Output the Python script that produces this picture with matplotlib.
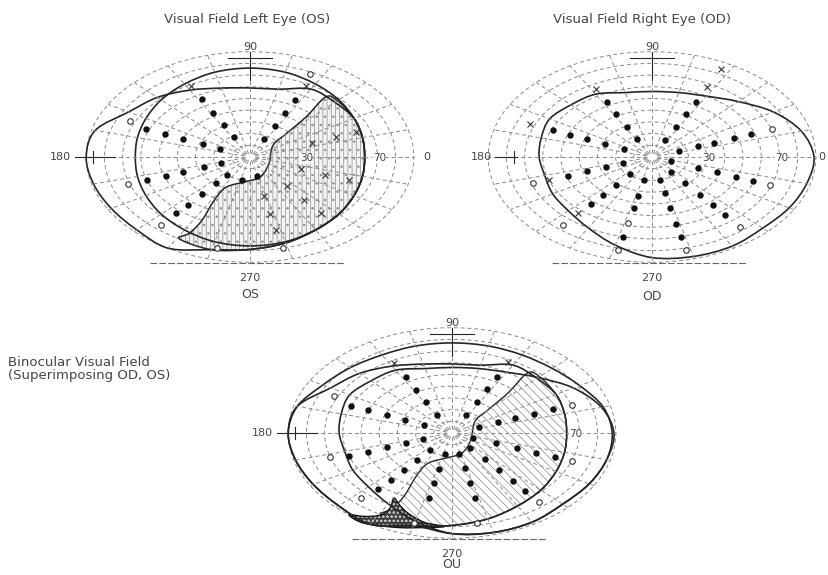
import numpy as np
import matplotlib.pyplot as plt
from matplotlib.path import Path
from matplotlib.patches import PathPatch, Circle

plt.rcParams['font.family'] = ['DejaVu Sans']
plt.rcParams['hatch.linewidth'] = 0.5

W, H = 829, 575
SX, SY = 1.82, 1.17   # pixels per degree of field

# ---- chart grid (degrees) ----
rings = [10, 20, 30, 40, 50, 60, 70, 80, 90]
spokes = list(range(0, 360, 15))
iso_theta = list(range(0, 360, 15))

# ---- isopters: radius (deg) per meridian in iso_theta ----
os_field_outer = [63, 64, 66, 66, 67, 60, 59, 61, 66, 72, 77, 88, 90, 89, 88, 88, 90, 82, 79, 76, 72, 69, 66, 64]
os_field_inner = [63, 64, 66, 69, 72, 75, 76, 75, 72, 69, 66, 64, 63, 64, 66, 69, 72, 75, 76, 75, 72, 69, 66, 64]
od_field = [89, 85, 77, 67, 60, 57, 56, 57, 62, 63, 65, 63, 62, 61, 63, 65, 70, 78, 86, 88, 88, 86, 87, 88]
ou_field_outer = [88, 86, 81, 78, 77, 77, 77, 77, 77, 79, 82, 88, 90, 89, 88, 88, 90, 82, 86, 88, 88, 86, 87, 88]

# ---- defect outlines (theta, r) ----
os_scotoma_theta = [51, 48, 45, 38, 329, 288, 265, 243, 242, 244, 243, 241, 255, 270, 285, 300, 315, 330, 345, 0, 15, 30, 45]
os_scotoma_r = [66, 46, 28, 16, 12, 18, 21, 29, 42, 60, 73, 80, 82, 79, 76, 72, 69, 66, 64, 63, 64, 66, 68]
ou_blind_theta = [240, 242, 241, 236, 231, 238, 250, 260, 267, 259, 251, 245]
ou_blind_r = [64, 72, 80, 86, 90, 91, 86, 82, 80, 78, 73, 68]

# ---- test points (theta, r) ----
os_dots = [(118, 19), (118, 31), (118, 43), (118, 56),
           (63, 17), (63, 30), (63, 42), (63, 55),
           (157, 18), (157, 28), (157, 40), (157, 51), (157, 62),
           (199, 17), (199, 27), (199, 39), (199, 49), (199, 60),
           (230, 20), (230, 29), (230, 41), (230, 53), (230, 63),
           (257, 20), (283, 17)]
os_open = [(155, 73), (199, 71), (230, 76), (257, 80), (283, 80), (65, 78)]
os_cross = [(118, 69), (63, 68), (20, 36), (20, 50), (20, 62), (340, 30), (340, 44), (340, 58),
            (309, 32), (309, 47), (309, 62), (283, 34), (283, 50), (283, 64)]

od_dots = [(20, 16), (20, 27), (20, 36), (20, 48), (20, 58),
           (340, 11), (340, 27), (340, 38), (340, 49), (340, 59),
           (309, 17), (309, 29), (309, 42), (309, 53), (309, 64),
           (283, 20), (283, 32), (283, 45), (283, 59), (283, 70),
           (257, 20), (257, 34), (257, 45), (257, 70),
           (230, 19), (230, 31), (230, 42), (230, 52),
           (199, 17), (199, 27), (199, 38), (199, 49),
           (157, 17), (157, 28), (157, 39), (157, 49), (157, 59),
           (118, 17), (118, 29), (118, 42), (118, 53),
           (63, 16), (63, 29), (63, 41), (63, 53)]
od_open = [(20, 70), (340, 69), (309, 77), (283, 82), (257, 58), (257, 82), (230, 76), (199, 69)]
od_cross = [(230, 63), (199, 60), (157, 73), (118, 66), (63, 67), (63, 84)]

ou_dots = [(20, 16), (20, 27), (20, 37), (20, 48), (20, 59),
           (340, 12), (340, 26), (340, 38), (340, 49), (340, 60),
           (309, 16), (309, 29), (309, 41), (309, 53), (309, 64),
           (283, 18), (283, 31), (283, 44), (283, 57),
           (257, 18), (257, 32), (257, 44), (257, 57),
           (230, 19), (230, 30), (230, 41), (230, 52), (230, 63),
           (199, 17), (199, 27), (199, 38), (199, 49), (199, 60),
           (157, 17), (157, 28), (157, 39), (157, 50), (157, 60),
           (118, 17), (118, 30), (118, 42), (118, 54),
           (63, 17), (63, 30), (63, 42), (63, 54)]
ou_open = [(20, 70), (340, 70), (309, 76), (280, 78), (255, 80), (228, 75), (197, 70), (154, 72)]
ou_cross = [(118, 68), (63, 68)]

INK = '#262626'
GRID = '#8a8a8a'
TXT = '#444444'


def polar_xy(theta, r):
    t = np.radians(np.asarray(theta, float))
    r = np.asarray(r, float)
    return r * np.cos(t), r * np.sin(t)


def smooth_closed(x, y):
    pts = np.column_stack([x, y])
    n = len(pts)
    verts = [pts[0]]
    codes = [Path.MOVETO]
    for i in range(n):
        p0, p1, p2, p3 = pts[i - 1], pts[i], pts[(i + 1) % n], pts[(i + 2) % n]
        verts += [p1 + (p2 - p0) / 6, p2 - (p3 - p1) / 6, p2]
        codes += [Path.CURVE4] * 3
    verts.append(pts[0])
    codes.append(Path.CLOSEPOLY)
    return Path(verts, codes)


def make_chart(cx, cy, left_x):
    ext = 110
    ax = fig.add_axes([(cx - ext * SX) / W, (H - cy - ext * SY) / H, 2 * ext * SX / W, 2 * ext * SY / H])
    ax.set_xlim(-ext, ext)
    ax.set_ylim(-ext, ext)
    ax.axis('off')
    ax.patch.set_visible(False)
    # rings and meridians
    for r in rings:
        ax.add_patch(Circle((0, 0), r, fill=False, ec=GRID, lw=0.7, ls=(0, (4, 3))))
    for t in spokes:
        x, y = polar_xy([t, t], [3, 90])
        ax.plot(x, y, color=GRID, lw=0.7, ls=(0, (4, 3)))
    # axis marks
    ax.plot([0, 0], [66, 90], color=INK, lw=0.8)
    ax.plot([-12, 12], [85, 85], color=INK, lw=0.8)
    ax.plot([left_x + 8, -74], [0, 0], color=INK, lw=0.8)
    ax.plot([left_x + 18, left_x + 18], [-5, 5], color=INK, lw=0.8)
    ax.plot([-55, 52], [-91, -91], color='#666666', lw=0.8, ls=(0, (6, 2)))
    return ax


def isopter(ax, radii, lw=1.2):
    x, y = polar_xy(iso_theta, radii)
    ax.add_patch(PathPatch(smooth_closed(x, y), fill=False, ec=INK, lw=lw))


def marks(ax, dots, opens, crosses):
    x, y = polar_xy([p[0] for p in dots], [p[1] for p in dots])
    ax.plot(x, y, 'o', ms=3.6, color='#111111', ls='none')
    x, y = polar_xy([p[0] for p in opens], [p[1] for p in opens])
    ax.plot(x, y, 'o', ms=4, mfc='white', mec='#333333', mew=0.8, ls='none')
    x, y = polar_xy([p[0] for p in crosses], [p[1] for p in crosses])
    ax.plot(x, y, 'x', ms=4.5, color='#333333', mew=0.8, ls='none')


def ring_label(ax, x, s):
    ax.text(x, -1, s, fontsize=7.5, color=TXT, ha='center', va='center',
            bbox=dict(fc='white', ec='none', pad=0.3, alpha=0.8))


def axis_text(ax, left_x, right_x):
    kw = dict(fontsize=8, color=TXT, ha='center', va='center')
    ax.text(0, 94, '90', **kw)
    ax.text(0, -103, '270', **kw)
    ax.text(left_x, 0, '180', **kw)
    if right_x is not None:
        ax.text(right_x, 0, '0', **kw)


fig = plt.figure(figsize=(W / 100, H / 100), dpi=100)
fig.patch.set_facecolor('white')

# ---- left eye ----
ax = make_chart(250, 157, -104)
x, y = polar_xy(os_scotoma_theta, os_scotoma_r)
ax.add_patch(PathPatch(smooth_closed(x, y), fc='#f4f4f4', ec='#8c8c8c', hatch='||||..', lw=0))
ax.add_patch(PathPatch(smooth_closed(x, y), fill=False, ec=INK, lw=1.1))
isopter(ax, os_field_inner)
isopter(ax, os_field_outer)
marks(ax, os_dots, os_open, os_cross)
axis_text(ax, -104, 97)
ring_label(ax, 31, '30')
ring_label(ax, 71, '70')

# ---- right eye ----
ax = make_chart(652, 157, -94)
isopter(ax, od_field)
marks(ax, od_dots, od_open, od_cross)
axis_text(ax, -94, 93)
ring_label(ax, 31, '30')
ring_label(ax, 71, '70')

# ---- both eyes ----
ax = make_chart(452, 433, -104)
x, y = polar_xy(os_scotoma_theta, os_scotoma_r)
ax.add_patch(PathPatch(smooth_closed(x, y), fc='white', ec='#8a8a8a', hatch='\\\\\\\\', lw=0))
ax.add_patch(PathPatch(smooth_closed(x, y), fill=False, ec=INK, lw=1.0))
x, y = polar_xy(ou_blind_theta, ou_blind_r)
ax.add_patch(PathPatch(smooth_closed(x, y), fc='#3c3c3c', ec='#bdbdbd', hatch='oooo', lw=0))
ax.add_patch(PathPatch(smooth_closed(x, y), fill=False, ec='#111111', lw=1.0))
isopter(ax, os_field_outer)
isopter(ax, od_field)
isopter(ax, ou_field_outer)
marks(ax, ou_dots, ou_open, ou_cross)
axis_text(ax, -104, None)
ring_label(ax, 68, '70')

# ---- titles and captions ----
def px(x, y):
    return x / W, 1 - y / H

fig.text(*px(247, 19), 'Visual Field Left Eye (OS)', fontsize=9.5, color=TXT, ha='center', va='center')
fig.text(*px(642, 19), 'Visual Field Right Eye (OD)', fontsize=9.5, color=TXT, ha='center', va='center')
fig.text(*px(250, 294), 'OS', fontsize=9, color=TXT, ha='center', va='center')
fig.text(*px(652, 296), 'OD', fontsize=9, color=TXT, ha='center', va='center')
fig.text(*px(452, 565), 'OU', fontsize=9, color=TXT, ha='center', va='center')
fig.text(*px(8, 369), 'Binocular Visual Field\n(Superimposing OD, OS)', fontsize=9.5, color=TXT,
         ha='left', va='center', linespacing=1.1)

fig.savefig('out.png', dpi=100, facecolor='white')
